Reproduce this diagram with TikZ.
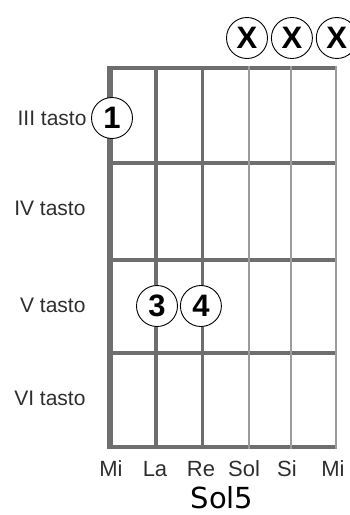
\documentclass[tikz,border=0pt]{standalone}
\usepackage{fontspec}
\setmainfont{Liberation Sans}
\newfontfamily\titolofont{DejaVu Sans}
\usepackage{xcolor}
\definecolor{grigioscuro}{HTML}{6E6E6E}
\definecolor{grigiochiaro}{HTML}{9C9C9C}
\definecolor{testo}{HTML}{2E2E2E}
\usetikzlibrary{positioning}

\begin{document}
\begin{tikzpicture}[x=1pt,y=-1pt,
  dito/.style={circle,draw=black,line width=0.9pt,fill=white,minimum size=41pt,inner sep=0pt,font=\fontsize{31}{31}\selectfont\bfseries},
  tasto/.style={anchor=base east,text=testo,font=\fontsize{21}{24}\selectfont},
  nota/.style={anchor=base,text=testo,inner sep=0pt,font=\fontsize{22}{24}\selectfont},
  barra/.style={grigioscuro,line width=4pt}
]
\useasboundingbox (0,0) rectangle (350,515);
\clip (0,0) rectangle (350,515);
% tasti
\draw[barra] (110,68)--(336,68);
\draw[barra] (110,163)--(336,163);
\draw[barra] (110,260)--(336,260);
\draw[barra] (110,353)--(336,353);
\draw[barra] (110,447)--(336,447);
% corde
\draw[grigioscuro,line width=5.5pt] (110,66)--(110,449);
\draw[grigioscuro,line width=4.5pt] (156,66)--(156,449);
\draw[grigioscuro,line width=3pt] (202,66)--(202,449);
\draw[grigiochiaro,line width=2pt] (249,66)--(249,449);
\draw[grigiochiaro,line width=1.6pt] (291,66)--(291,449);
\draw[grigiochiaro,line width=1.3pt] (336,66)--(336,449);
% nomi dei tasti
\node[tasto] (t3) at (90,125) {III tasto};
\node[tasto] (t4) at (89,215) {IV tasto};
\node[tasto] (t5) at (89,312) {V tasto};
\node[tasto] (t6) at (89,405) {VI tasto};
% dita
\node[dito] (uno) at (112,118) {1};
\node[dito] (tre) at (157,306) {3};
\node[dito,right=2pt of tre] (quattro) {4};
\node[dito] (x1) at (247,38) {X};
\node[dito,right=3pt of x1] (x2) {X};
\node[dito,right=3pt of x2] (x3) {X};
% corde a vuoto
\node[nota] (mi1) at (111,476) {Mi};
\node[nota] (la) at (155,476) {La};
\node[nota] (re) at (201,476) {Re};
\node[nota] (sol) at (244,476) {Sol};
\node[nota] (si) at (287,476) {Si};
\node[nota] (mi2) at (333,476) {Mi};
\node[anchor=base,inner sep=0pt,font=\titolofont\fontsize{29}{29}\selectfont] (nome) at (222,508) {Sol5};
\end{tikzpicture}
\end{document}
